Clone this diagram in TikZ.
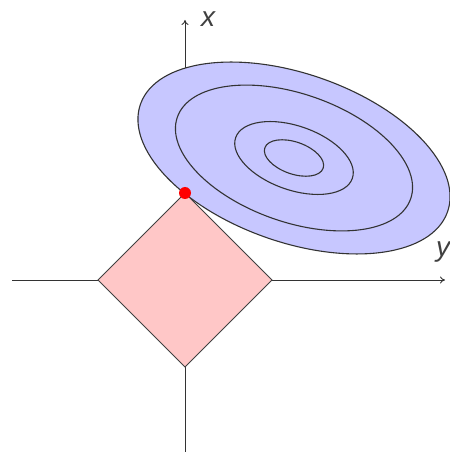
\documentclass[tikz,border=0pt]{standalone}
\usepackage{fontspec}
\setmainfont{Liberation Sans}
\usetikzlibrary{arrows.meta}
\begin{document}
\begin{tikzpicture}[x=1pt,y=1pt,
  axis/.style={draw=black!80,line width=0.9pt,-{To[length=5pt,width=7pt]}},
  contour/.style={draw=black!80,line width=1.1pt},
  lbl/.style={font=\fontsize{28}{30}\selectfont\itshape,text=black!75,inner sep=0pt}]
\useasboundingbox (0,0) rectangle (450,456);
% axes
\coordinate (ystart) at (12,176);
\coordinate (yend) at (445,176);
\coordinate (xstart) at (185,4);
\coordinate (xend) at (185,436);
\draw[axis] (ystart) -- (yend);
\draw[axis] (xstart) -- (xend);
\node[lbl] (xl) at (208,437) {x};
\node[lbl] (yl) at (443,204) {y};
% ellipses
\coordinate (c) at (294,298);
\path[contour,fill=blue!22] (c) ellipse[x radius=162.7,y radius=84.2,rotate=-19.3];
\path[contour] (c) ellipse[x radius=123.6,y radius=64,rotate=-19.3];
\path[contour] (c) ellipse[x radius=61.8,y radius=32,rotate=-19.3];
\path[contour] (c) ellipse[x radius=30.9,y radius=16,rotate=-19.3];
% diamond
\coordinate (dt) at (185,263);
\coordinate (dl) at (98,176);
\coordinate (db) at (185,89);
\coordinate (dr) at (272,176);
\draw[draw=black!75,line width=0.9pt,fill=red!22] (dt) -- (dr) -- (db) -- (dl) -- cycle;
% point
\node[circle,fill=red,inner sep=0pt,minimum size=12pt] (p) at (dt) {};
\end{tikzpicture}
\end{document}
